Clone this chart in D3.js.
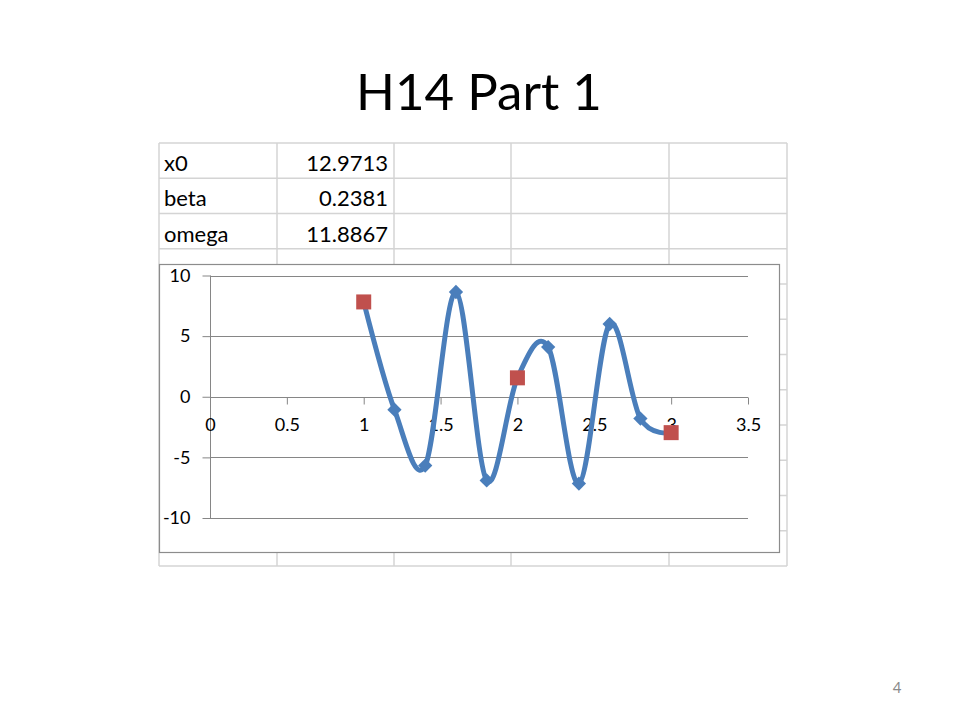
<!DOCTYPE html>
<html>
<head>
<meta charset="utf-8">
<script src="https://cdn.jsdelivr.net/npm/d3@7"></script>
<style>
html,body{margin:0;padding:0;background:#fff;}
svg{display:block;}
</style>
</head>
<body>
<svg id="c" width="960" height="720"></svg>
<script>
// ---- data ----
const title = "H14 Part 1";
const pageNumber = "4";
const paramNames = ["x0", "beta", "omega"];
const paramValues = ["12.9713", "0.2381", "11.8867"];
const xValues = [1, 1.2, 1.4, 1.6, 1.8, 2, 2.2, 2.4, 2.6, 2.8, 3];
const yValues = [7.82, -1.07, -5.68, 8.64, -6.9, 1.56, 4.1, -7.16, 6.0, -1.8, -2.96];
const diamondX = [1.2, 1.4, 1.6, 1.8, 2.2, 2.4, 2.6, 2.8];
const diamondY = [-1.07, -5.68, 8.64, -6.9, 4.1, -7.16, 6.0, -1.8];
const squareX = [1, 2, 3];
const squareY = [7.82, 1.56, -2.96];
const xTicks = [0, 0.5, 1, 1.5, 2, 2.5, 3, 3.5];
const yTicks = [-10, -5, 0, 5, 10];

const svg = d3.select("#c");
const FONT = "Lato, 'Open Sans', sans-serif";

// title
svg.append("text").attr("x", 479).attr("y", 109.5).attr("text-anchor", "middle")
  .attr("font-family", FONT).attr("font-size", 51).attr("fill", "#000").text(title);

// spreadsheet grid
const colX = [159, 277, 394, 511, 669, 787];
const rowY = d3.range(0, 13).map(i => 143 + i * 35.25);
const gridC = "#d4d4d4";
const sheet = svg.append("g");
colX.forEach(x => sheet.append("line").attr("x1", x).attr("x2", x).attr("y1", rowY[0]).attr("y2", rowY[12])
  .attr("stroke", gridC).attr("stroke-width", 1.5));
rowY.forEach(y => sheet.append("line").attr("x1", colX[0]).attr("x2", colX[5]).attr("y1", y).attr("y2", y)
  .attr("stroke", gridC).attr("stroke-width", 1.5));

paramNames.forEach((n, i) => {
  sheet.append("text").attr("x", 164).attr("y", rowY[i] + 28).attr("font-family", FONT)
    .attr("font-size", 22).attr("fill", "#000").text(n);
  sheet.append("text").attr("x", 388).attr("y", rowY[i] + 28).attr("text-anchor", "end").attr("font-family", FONT)
    .attr("font-size", 22).attr("fill", "#000").text(paramValues[i]);
});

// chart area
svg.append("rect").attr("x", 159.5).attr("y", 264.5).attr("width", 620).attr("height", 288)
  .attr("fill", "#fff").attr("stroke", "#8c8c8c").attr("stroke-width", 1.2);

const x = d3.scaleLinear().domain([0, 3.5]).range([210, 748]);
const y = d3.scaleLinear().domain([-10, 10]).range([518, 275.5]);
const gc = "#868686";

// horizontal gridlines
const g = svg.append("g");
yTicks.forEach(t => g.append("line").attr("x1", x(0)).attr("x2", x(3.5)).attr("y1", Math.round(y(t)) + 0.5)
  .attr("y2", Math.round(y(t)) + 0.5).attr("stroke", gc).attr("stroke-width", 1));

// y axis
const yAxis = d3.axisLeft(y).tickValues(yTicks).tickSize(8).tickPadding(12).tickFormat(d3.format("d"));
const ya = svg.append("g").attr("transform", `translate(${x(0) + 0.5},0)`).call(yAxis);
ya.selectAll("path,line").attr("stroke", gc);
ya.select("path").attr("d", `M0,${y(10)}V${y(-10)}`);
ya.selectAll("text").attr("font-family", FONT).attr("font-size", 18).attr("fill", "#000")
  .text(d => d < 0 ? "-" + Math.abs(d) : d);

// x axis at y=0
const xAxis = d3.axisBottom(x).tickValues(xTicks).tickSize(7).tickPadding(14).tickFormat(d => String(d));
const xa = svg.append("g").attr("transform", `translate(0,${Math.round(y(0)) + 0.5})`).call(xAxis);
xa.selectAll("path,line").attr("stroke", gc);
xa.select("path").attr("d", `M${x(0)},0H${x(3.5)}`);
xa.selectAll("text").attr("font-family", FONT).attr("font-size", 18).attr("fill", "#000");

// smooth line
const blue = "#4a7ebb";
const red = "#c0504d";
const pts = xValues.map((v, i) => [x(v), y(yValues[i])]);
svg.append("path").attr("d", d3.line().curve(d3.curveCardinal.tension(0))(pts))
  .attr("fill", "none").attr("stroke", blue).attr("stroke-width", 5).attr("stroke-linejoin", "round");

// diamonds
const sym = d3.symbol().type(d3.symbolDiamond2).size(130);
diamondX.forEach((v, i) => svg.append("path").attr("d", sym())
  .attr("transform", `translate(${x(v)},${y(diamondY[i])})`).attr("fill", blue));

// squares
squareX.forEach((v, i) => svg.append("rect").attr("x", x(v) - 7.5).attr("y", y(squareY[i]) - 7.5)
  .attr("width", 15).attr("height", 15).attr("fill", red));

// page number
svg.append("text").attr("x", 897).attr("y", 693).attr("text-anchor", "middle").attr("font-family", FONT)
  .attr("font-size", 15).attr("fill", "#8a8a8a").text(pageNumber);
</script>
</body>
</html>
